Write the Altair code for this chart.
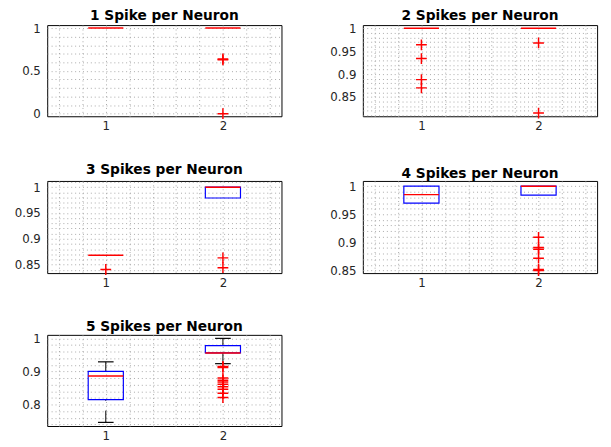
import altair as alt
import numpy as np
import pandas as pd

titles = ["1 Spike per Neuron", "2 Spikes per Neuron", "3 Spikes per Neuron",
          "4 Spikes per Neuron", "5 Spikes per Neuron"]
groups = [1, 2]

# box statistics per panel, per group
q1 = [[1.0, 1.0], [1.0, 1.0], [0.868, 0.979], [0.970, 0.984], [0.815, 0.956]]
med = [[1.0, 1.0], [1.0, 1.0], [0.868, 1.0], [0.985, 1.0], [0.886, 0.956]]
q3 = [[1.0, 1.0], [1.0, 1.0], [0.868, 1.0], [1.0, 1.0], [0.900, 0.978]]
wlo = [[1.0, 1.0], [1.0, 1.0], [0.868, 0.979], [0.970, 0.984], [0.746, 0.9235]]
whi = [[1.0, 1.0], [1.0, 1.0], [0.868, 1.0], [1.0, 1.0], [0.929, 1.0]]

outliers = [
    [[], [0.64, 0.63, 0.0]],
    [[0.964, 0.934, 0.888, 0.870], [0.968, 0.815]],
    [[0.8405], [0.863, 0.844]],
    [[], [0.909, 0.891, 0.888, 0.872, 0.852, 0.850]],
    [[], [0.915, 0.912, 0.880, 0.8735, 0.868, 0.861, 0.854, 0.846, 0.834, 0.821]],
]

y_domains = [[-0.03, 1.035], [0.808, 1.007], [0.8335, 1.012], [0.8454, 1.0093], [0.735, 1.0106]]
major_steps = [0.5, 0.05, 0.05, 0.05, 0.1]
minor_steps = [0.1, 0.01, 0.01, 0.01, 0.02]
x_ticks = [1, 2]
heights = [93, 93, 94, 94, 93]
W = 239

PLUS = "M-1,0L1,0M0,-1L0,1"


def panel(i):
    bx = pd.DataFrame({"g": groups, "q1": q1[i], "med": med[i], "q3": q3[i],
                       "wlo": wlo[i], "whi": whi[i]})
    out = pd.DataFrame([{"g": g, "v": v} for g, vs in zip(groups, outliers[i]) for v in vs])

    xs = alt.Scale(domain=[0.5, 2.5], nice=False, zero=False)
    ys = alt.Scale(domain=y_domains[i], nice=False, zero=False)
    xgrid = [round(0.6 + 0.2 * k, 4) + 0.0 for k in range(10)]
    lo, hi = y_domains[i]
    st = minor_steps[i]
    ygrid = [round(v, 4) + 0.0 for v in np.arange(np.ceil(lo / st - 1e-9) * st, hi + 1e-9, st)]
    M = major_steps[i]
    xcond = " || ".join(f"abs(datum.value - {t}) < 1e-6" for t in x_ticks)
    xaxis = alt.Axis(values=xgrid, format="~g", title=None,
                     labelExpr=f"({xcond}) ? datum.label : ''")
    yaxis = alt.Axis(values=ygrid, format="~g", title=None,
                     labelExpr=f"abs(datum.value/{M} - round(datum.value/{M})) < 1e-6 ? datum.label : ''")

    base = alt.Chart(bx).transform_calculate(
        xl="datum.g - 0.15", xr="datum.g + 0.15",
        cl="datum.g - 0.0667", cr="datum.g + 0.0667")

    X = lambda f: alt.X(f, type="quantitative", scale=xs, axis=xaxis)
    Y = lambda f: alt.Y(f, type="quantitative", scale=ys, axis=yaxis)

    up = base.transform_filter("datum.whi > datum.q3")
    dn = base.transform_filter("datum.wlo < datum.q1")
    w_up = up.mark_rule(color="black", strokeWidth=1, strokeDash=[12, 10]).encode(
        x=X("g"), y=Y("whi"), y2="q3:Q")
    w_dn = dn.mark_rule(color="black", strokeWidth=1, strokeDash=[12, 10]).encode(
        x=X("g"), y=Y("wlo"), y2="q1:Q")
    cap_up = up.mark_rule(color="black", strokeWidth=1.2).encode(
        x=X("cl"), x2="cr:Q", y=Y("whi"))
    cap_dn = dn.mark_rule(color="black", strokeWidth=1.2).encode(
        x=X("cl"), x2="cr:Q", y=Y("wlo"))
    box = base.transform_filter("datum.q3 > datum.q1").mark_rect(
        fillOpacity=0, stroke="#0000ff", strokeWidth=1.2).encode(
        x=X("xl"), x2="xr:Q", y=Y("q1"), y2="q3:Q")
    median = base.mark_rule(color="#ff0000", strokeWidth=1.5).encode(
        x=X("xl"), x2="xr:Q", y=Y("med"))
    pts = alt.Chart(out).mark_point(shape=PLUS, size=121, color="#ff0000",
                                     filled=False, strokeWidth=1.5, opacity=1).encode(
        x=X("g"), y=Y("v"))

    return alt.layer(w_up, w_dn, cap_up, cap_dn, box, median, pts).properties(
        width=W, height=heights[i], title=titles[i])


row1 = alt.hconcat(panel(0), panel(1), spacing=47)
row2 = alt.hconcat(panel(2), panel(3), spacing=47)
chart = alt.vconcat(row1, row2, panel(4), spacing=28).properties(
    padding={"left": 5, "top": -4, "right": 5, "bottom": 0}
).configure_view(
    stroke="black", strokeWidth=1
).configure_axis(
    grid=True, gridDash=[1, 3], gridColor="#a8a8a8", gridWidth=1,
    ticks=False, domain=False,
    labelFont="DejaVu Sans", labelFontSize=12, labelColor="#262626",
    labelOverlap=False, labelFlush=False
).configure_axisY(
    labelPadding=7, minExtent=32, maxExtent=32
).configure_axisX(
    labelPadding=5, minExtent=18, maxExtent=18
).configure_title(
    font="DejaVu Sans", fontSize=14, fontWeight="bold", color="black",
    anchor="middle", offset=-1
)

chart.save("out.html", embed_options={"renderer": "svg", "actions": False})
